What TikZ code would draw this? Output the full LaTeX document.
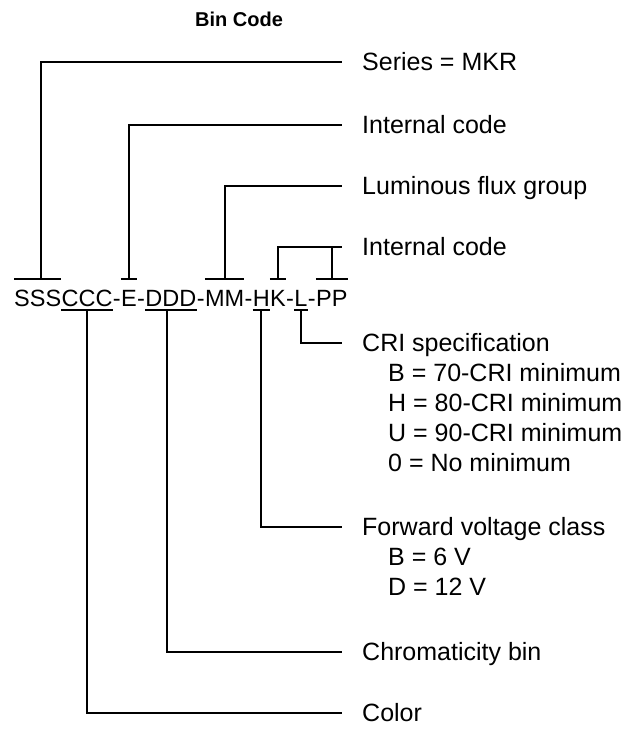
\documentclass[tikz,border=0pt]{standalone}
\usepackage{fontspec}
\setmainfont{Liberation Sans}
\begin{document}
\begin{tikzpicture}[x=1pt,y=-1pt,
  conn/.style={draw=black,line width=1.9pt},
  codetxt/.style={inner sep=0pt,anchor=base west,font=\fontsize{23.5}{28}\selectfont},
  lbl/.style={inner sep=0pt,anchor=west,text height=17pt,text depth=0pt,font=\fontsize{25}{30}\selectfont},
  titletxt/.style={inner sep=0pt,font=\fontsize{20}{24}\selectfont\bfseries}]
\useasboundingbox (0,0) rectangle (640,730);
\node[titletxt] (title) at (239,19) {Bin Code};
% code string
\node[codetxt] (sss) at (14,306) {SSS};
\node[codetxt] (ccc) at (sss.base east) {CCC};
\node[codetxt] (d1) at (ccc.base east) {-};
\node[codetxt] (e) at (d1.base east) {E};
\node[codetxt] (d2) at (e.base east) {-};
\node[codetxt] (ddd) at (d2.base east) {DDD};
\node[codetxt] (d3) at (ddd.base east) {-};
\node[codetxt] (mm) at (d3.base east) {MM};
\node[codetxt] (d4) at (mm.base east) {-};
\node[codetxt] (h) at (d4.base east) {H};
\node[codetxt] (k) at (h.base east) {K};
\node[codetxt] (d5) at (k.base east) {-};
\node[codetxt] (l) at (d5.base east) {L};
\node[codetxt] (d6) at (l.base east) {-};
\node[codetxt] (pp) at (d6.base east) {PP};
\coordinate (topy) at (0,279);
\coordinate (boty) at (0,310);
% labels
\node[lbl] (lser) at (362,62) {Series = MKR};
\node[lbl] (lint1) at (362,125) {Internal code};
\node[lbl] (llum) at (362,186) {Luminous flux group};
\node[lbl] (lint2) at (362,247) {Internal code};
\node[lbl] (lcri) at (362,343) {CRI specification};
\node[lbl] (cri1) at (388,373) {B = 70-CRI minimum};
\node[lbl] (cri2) at (388,403) {H = 80-CRI minimum};
\node[lbl] (cri3) at (388,433) {U = 90-CRI minimum};
\node[lbl] (cri4) at (388,463) {0 = No minimum};
\node[lbl] (lfwd) at (362,527) {Forward voltage class};
\node[lbl] (fwd1) at (388,557) {B = 6 V};
\node[lbl] (fwd2) at (388,587) {D = 12 V};
\node[lbl] (lchr) at (362,652) {Chromaticity bin};
\node[lbl] (lcol) at (362,713) {Color};
% bars above
\foreach \n in {sss,e,mm,k,pp}{
  \draw[conn] (\n.west |- topy) -- (\n.east |- topy);
}
% bars below
\foreach \n in {ccc,ddd,h,l}{
  \draw[conn] (\n.west |- boty) -- (\n.east |- boty);
}
% connectors above
\draw[conn] ([xshift=3pt]sss.center |- topy) |- ([xshift=-20pt]lser.west);
\draw[conn] (e.center |- topy) |- ([xshift=-20pt]lint1.west);
\draw[conn] (mm.center |- topy) |- ([xshift=-20pt]llum.west);
\draw[conn] (k.center |- topy) |- ([xshift=-20pt]lint2.west);
\draw[conn] (pp.center |- topy) -- (pp.center |- lint2.west);
% connectors below
\draw[conn] (l.center |- boty) |- ([xshift=-20pt]lcri.west);
\draw[conn] (h.center |- boty) |- ([xshift=-20pt]lfwd.west);
\draw[conn] ([xshift=-4pt]ddd.center |- boty) |- ([xshift=-20pt]lchr.west);
\draw[conn] (ccc.center |- boty) |- ([xshift=-20pt]lcol.west);
\end{tikzpicture}
\end{document}
